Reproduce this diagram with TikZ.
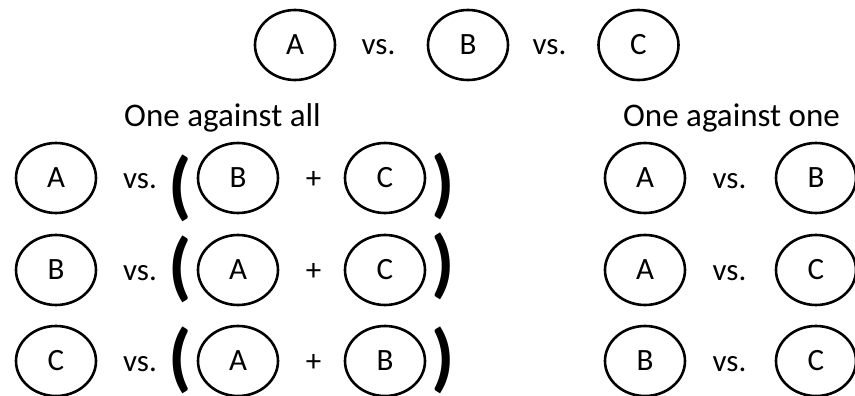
\documentclass[tikz,border=0pt]{standalone}
\usepackage{fontspec}
\setmainfont{Carlito}
\usetikzlibrary{shapes.geometric}
\tikzset{
  cls/.style={ellipse, draw, line width=2.6pt, minimum width=80pt, minimum height=70pt,
    inner sep=0pt, font=\fontsize{31}{31}\selectfont},
  word/.style={anchor=base, inner sep=0pt, font=\fontsize{31}{31}\selectfont},
  title/.style={anchor=base, inner sep=0pt, font=\fontsize{33}{33}\selectfont},
  paren/.style={inner sep=0pt, font=\fontsize{75}{75}\selectfont\bfseries}
}
\begin{document}
\begin{tikzpicture}[x=1pt,y=-1pt]
\useasboundingbox (0,0) rectangle (855,396);

% three classes at the top
\node[cls] (tA) at (295,45) {A};
\node[word] (tv1) at (378.5,55) {vs.};
\node[cls] (tB) at (468,45) {B};
\node[word] (tv2) at (549.5,55) {vs.};
\node[cls] (tC) at (638.5,45) {C};

% one against all
\node[title] (oaa) at (222.5,126) {One against all};
\foreach \r/\cy/\p/\q/\s/\lo/\ro in {1/176.5/A/B/C/188/186, 2/268.5/B/A/C/269/266.5, 3/359.5/C/A/B/360/360}{
  \node[cls] (l\r a) at (56,\cy+1.5) {\p};
  \node[word] (l\r v) at (140,\cy+11.5) {vs.};
  \node[paren] (l\r o) at (180,\lo) {(};
  \node[cls] (l\r b) at (238,\cy+1.5) {\q};
  \node[word] (l\r p) at (313.5,\cy+11.5) {+};
  \node[cls] (l\r c) at (385,\cy+1.5) {\s};
  \node[paren] (l\r e) at (443,\ro) {)};
}

% one against one
\node[title] (oao) at (731.5,126) {One against one};
\foreach \r/\cy/\p/\q in {1/176.5/A/B, 2/268.5/A/C, 3/359.5/B/C}{
  \node[cls] (r\r a) at (645,\cy+1.5) {\p};
  \node[word] (r\r v) at (729.5,\cy+11.5) {vs.};
  \node[cls] (r\r b) at (816,\cy+1.5) {\q};
}
\end{tikzpicture}
\end{document}
